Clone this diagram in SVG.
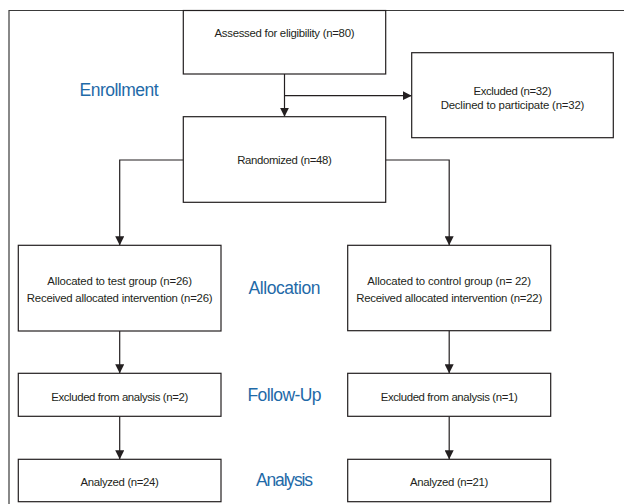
<svg xmlns="http://www.w3.org/2000/svg" width="624" height="504" viewBox="0 0 624 504">
<defs>
<marker id="arr" markerWidth="9" markerHeight="9" refX="9" refY="4.5" orient="auto" markerUnits="userSpaceOnUse">
<path d="M0,0 L9,4.5 L0,9 Z" fill="#231f20"/>
</marker>
<style>
.box{fill:#ffffff;stroke:#231f20;stroke-width:1.2}
.frame{fill:none;stroke:#3a3a3a;stroke-width:1.2}
.con{fill:none;stroke:#231f20;stroke-width:1.2}
.t{font-family:"Liberation Sans",Arial,sans-serif;font-size:11.4px;fill:#231f20;text-anchor:middle}
.lab{font-family:"Liberation Sans",Arial,sans-serif;font-size:17.5px;fill:#1f6aa8;text-anchor:middle}
</style>
</defs>
<rect width="624" height="504" fill="#ffffff"/>
<path class="frame" d="M9,504 L9,10.5 L624,10.5"/>

<g id="labels">
<text class="lab" x="119" y="96" textLength="79">Enrollment</text>
<text class="lab" x="284.5" y="294" textLength="72">Allocation</text>
<text class="lab" x="284.5" y="401" textLength="74">Follow-Up</text>
<text class="lab" x="284.5" y="485.5" textLength="57">Analysis</text>
</g>

<g id="connectors">
<path class="con" d="M284.5,74 L284.5,116.7" marker-end="url(#arr)"/>
<path class="con" d="M284.5,95.7 L411.7,95.7" marker-end="url(#arr)"/>
<path class="con" d="M183.3,160 L119.7,160 L119.7,245.3" marker-end="url(#arr)"/>
<path class="con" d="M385.7,160 L449.2,160 L449.2,245.3" marker-end="url(#arr)"/>
<path class="con" d="M119.7,331 L119.7,373.3" marker-end="url(#arr)"/>
<path class="con" d="M449.2,331 L449.2,373.3" marker-end="url(#arr)"/>
<path class="con" d="M119.7,416.3 L119.7,459.3" marker-end="url(#arr)"/>
<path class="con" d="M449.2,416.3 L449.2,459.3" marker-end="url(#arr)"/>
</g>

<g id="assessed">
<rect class="box" x="183.3" y="10.5" width="202.4" height="63.5"/>
<text class="t" x="284.5" y="36.5" textLength="140">Assessed for eligibility (n=80)</text>
</g>
<g id="excluded">
<rect class="box" x="411.7" y="52.7" width="201.6" height="85"/>
<text class="t" x="512.5" y="95" textLength="78">Excluded (n=32)</text>
<text class="t" x="512.5" y="108.5" textLength="143.7">Declined to participate (n=32)</text>
</g>
<g id="randomized">
<rect class="box" x="183.3" y="116.7" width="202.4" height="85.6"/>
<text class="t" x="284.5" y="164" textLength="94.7">Randomized (n=48)</text>
</g>
<g id="alloc-test">
<rect class="box" x="18.3" y="245.3" width="202.7" height="85.7"/>
<text class="t" x="119.7" y="285" textLength="144.7">Allocated to test group (n=26)</text>
<text class="t" x="119.7" y="301.7" textLength="185.7">Received allocated intervention (n=26)</text>
</g>
<g id="alloc-control">
<rect class="box" x="347.7" y="245.3" width="203" height="85.4"/>
<text class="t" x="449.2" y="285" textLength="163.7">Allocated to control group (n= 22)</text>
<text class="t" x="449.2" y="301.7" textLength="186">Received allocated intervention (n=22)</text>
</g>
<g id="excl-test">
<rect class="box" x="18.3" y="373.3" width="202.7" height="43"/>
<text class="t" x="119.7" y="401.2" textLength="137">Excluded from analysis (n=2)</text>
</g>
<g id="excl-control">
<rect class="box" x="347.7" y="373.3" width="203" height="43"/>
<text class="t" x="449.2" y="401.2" textLength="137">Excluded from analysis (n=1)</text>
</g>
<g id="analyzed-test">
<rect class="box" x="18.3" y="459.3" width="202.7" height="42.4"/>
<text class="t" x="119.7" y="485.5" textLength="78.3">Analyzed (n=24)</text>
</g>
<g id="analyzed-control">
<rect class="box" x="347.7" y="459.3" width="203" height="42.4"/>
<text class="t" x="449.2" y="485.5" textLength="78.3">Analyzed (n=21)</text>
</g>
</svg>
